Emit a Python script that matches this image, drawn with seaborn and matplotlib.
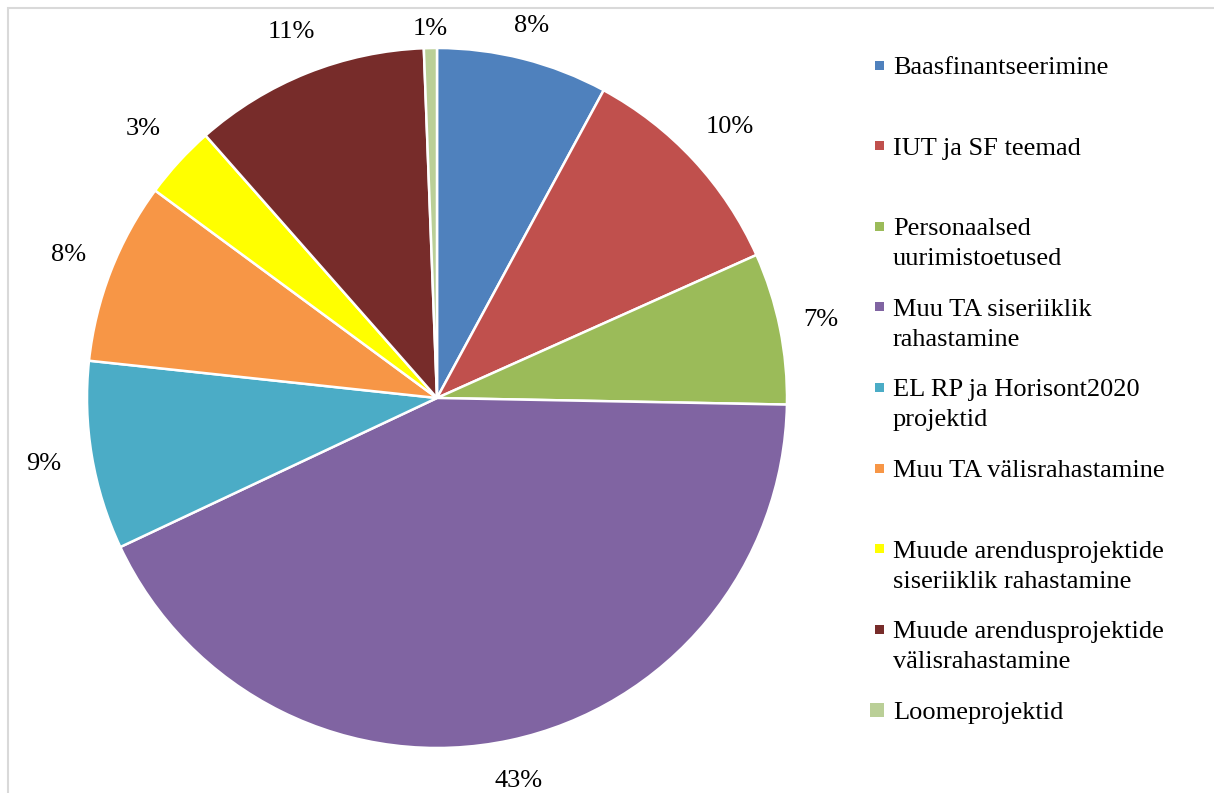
import matplotlib
matplotlib.use("Agg")
import matplotlib.pyplot as plt
import seaborn as sns
import numpy as np
from matplotlib.patches import Rectangle

# andmed
categories = ["Baasfinantseerimine", "IUT ja SF teemad",
              "Personaalsed\nuurimistoetused", "Muu TA siseriiklik\nrahastamine",
              "EL RP ja Horisont2020\nprojektid", "Muu TA välisrahastamine",
              "Muude arendusprojektide\nsiseriiklik rahastamine",
              "Muude arendusprojektide\nvälisrahastamine", "Loomeprojektid"]
shares = [7.9, 10.4, 7.0, 42.7, 8.7, 8.4, 3.4, 10.9, 0.6]
colors = ["#4F81BD", "#C0504D", "#9BBB59", "#8064A2", "#4BACC6",
          "#F79646", "#FFFF00", "#772C2A", "#BACF97"]

# siltide kaugus keskpunktist (raadiuse kordajad, Excel "best fit" järgi)
label_dist = [1.095, 1.14, 1.12, 1.12, 1.14, 1.13, 1.14, 1.125, 1.055]

sns.set_theme(style="white")
plt.rcParams["font.family"] = ["Liberation Serif", "DejaVu Serif"]

W, H = 1214, 793
fig = plt.figure(figsize=(W / 100, H / 100), dpi=100)

# Excel'i diagrammiala raam (parem ja alumine serv jäävad pildist välja)
fig.patches.append(Rectangle((8 / W, -0.1), 1.2, 1.1 - 8 / H, transform=fig.transFigure,
                             fill=False, edgecolor="#D9D9D9", linewidth=1.5))

cx, cy, r = 437, 398, 350
ax = fig.add_axes([(cx - r) / W, (H - cy - r) / H, 2 * r / W, 2 * r / H])
wedges, _, autotexts = ax.pie(
    shares, colors=colors, startangle=90, counterclock=False, radius=1,
    autopct="%.0f%%", pctdistance=1.12,
    wedgeprops=dict(edgecolor="white", linewidth=1.8),
    textprops=dict(fontsize=19, color="black"))
for w, t, d in zip(wedges, autotexts, label_dist):
    ang = np.deg2rad((w.theta1 + w.theta2) / 2)
    t.set_position((d * np.cos(ang), d * np.sin(ang)))
ax.set_xlim(-1, 1)
ax.set_ylim(-1, 1)
ax.set_aspect("equal")
ax.axis("off")

# legend käsitsi, ühtlaste vahedega nagu originaalis
legend_top, legend_step = 65, 80.6
for i, (lab, col) in enumerate(zip(categories, colors)):
    y = legend_top + i * legend_step
    size = 14 if lab == "Loomeprojektid" else 9
    fig.patches.append(Rectangle(((884 - size) / W, (H - y - size / 2) / H),
                                 size / W, size / H, transform=fig.transFigure,
                                 facecolor=col, edgecolor="none"))
    fig.text(893 / W, (H - y + 8) / H, lab, fontsize=19, va="top", ha="left",
             color="black", linespacing=1.47)

fig.savefig("out.png", dpi=100)
